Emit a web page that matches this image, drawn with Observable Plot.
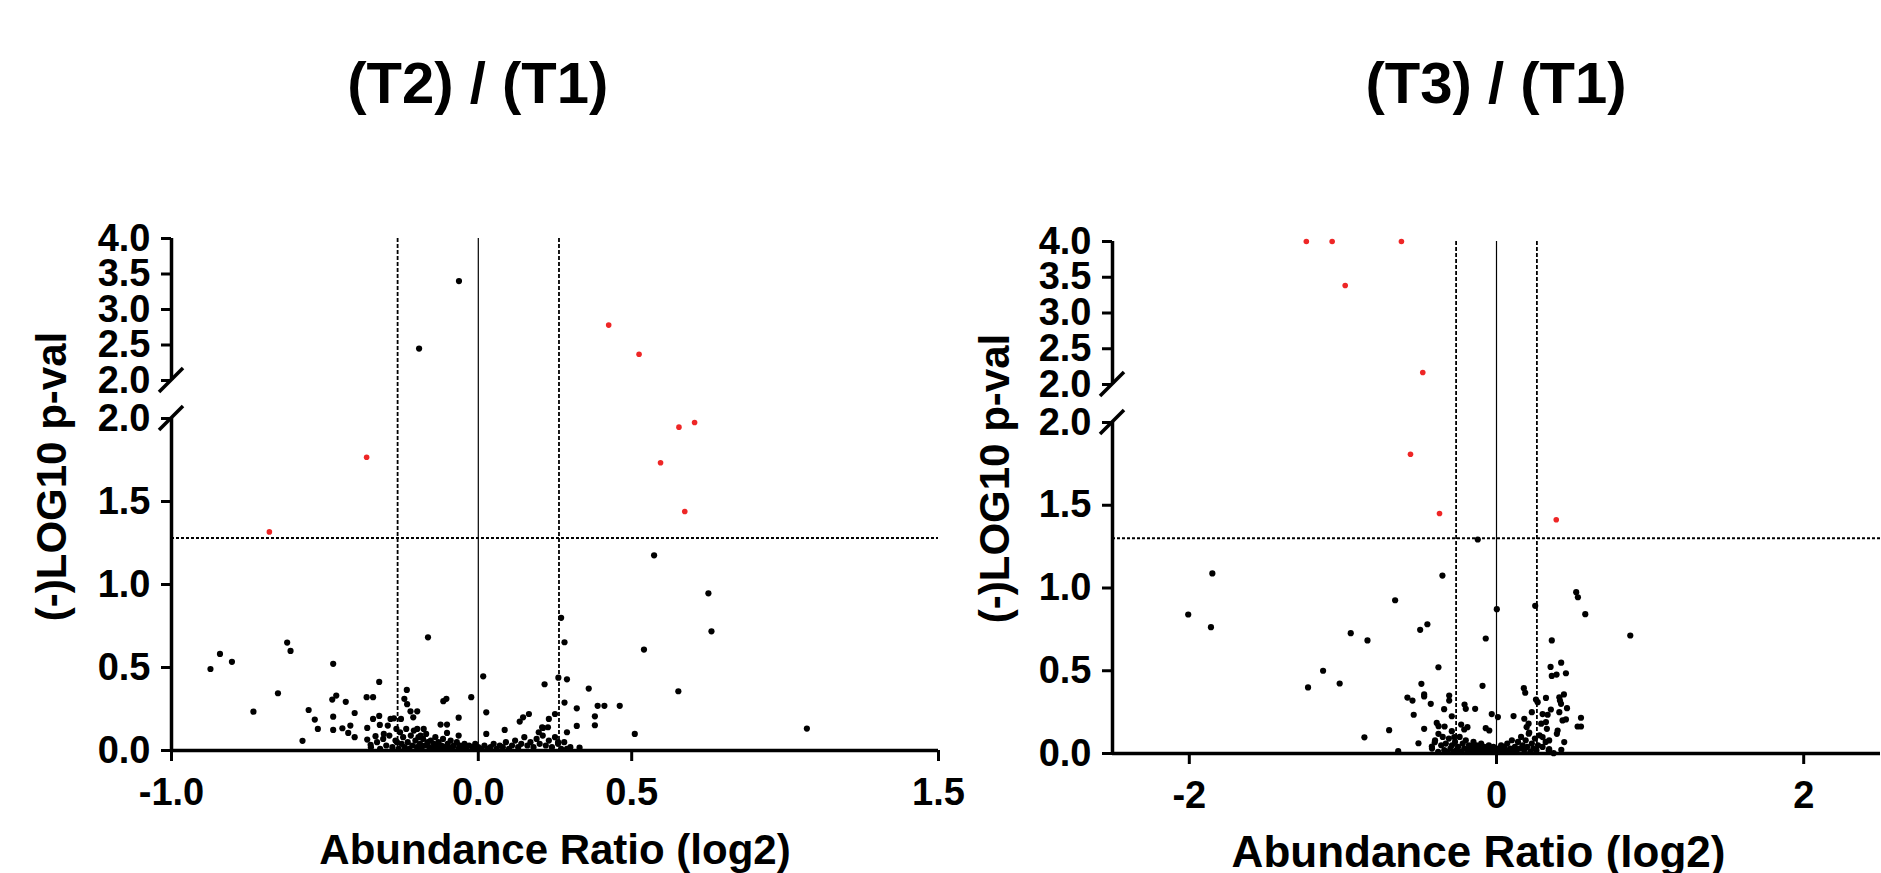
<!DOCTYPE html>
<html>
<head>
<meta charset="utf-8">
<script src="https://cdn.jsdelivr.net/npm/d3@7"></script>
<script src="https://cdn.jsdelivr.net/npm/@observablehq/plot@0.6"></script>
<style>
html, body { margin: 0; padding: 0; background: #fff; }
#root { position: relative; width: 1881px; height: 873px; overflow: hidden; font-family: "Liberation Sans", Arial, sans-serif; }
.title { position: absolute; font-weight: bold; font-size: 58px; line-height: 58px; white-space: nowrap; transform: translateX(-50%); color: #000; }
.panel { position: absolute; top: 0; }
.panel svg { max-width: none; overflow: visible; }
[aria-label$="axis tick"] path { stroke-width: 3px; }
</style>
</head>
<body>
<div id="root"></div>
<script>
// ---------- data ----------
const panelTitles = ["(T2) / (T1)", "(T3) / (T1)"];
const xLabel = "Abundance Ratio (log2)";
const yLabel = "(-)LOG10 p-val";

const t2XDomain = [-1, 1.5];
const t3XDomain = [-2.5, 2.5];
const t2XTicks = [-1, 0, 0.5, 1.5];
const t3XTicks = [-2, 0, 2];
const yLowerDomain = [0, 2];
const yUpperDomain = [2, 4];
const yLowerTicks = [0, 0.5, 1, 1.5, 2];
const yUpperTicks = [2, 2.5, 3, 3.5, 4];

const foldThreshold = 0.263;     // log2(1.2)
const t2PThreshold = 1.28;
const t3PThreshold = 1.3;

// [log2 ratio, -log10 p]
const t2Points = [
  [-0.063,3.40],[-0.193,2.45],[0.425,2.78],[0.524,2.37],
  [0.705,1.976],[0.654,1.948],[0.594,1.733],[0.673,1.44],[-0.364,1.767],[-0.681,1.317],[0.573,1.176],[0.75,0.947],
  [-0.873,0.491],[-0.842,0.582],[-0.803,0.534],[-0.733,0.234],[-0.653,0.345],[-0.623,0.65],[-0.612,0.6],[-0.573,0.058],
  [-0.553,0.244],[-0.533,0.186],[-0.523,0.13],[-0.473,0.522],[-0.476,0.307],[-0.463,0.331],[-0.473,0.204],[-0.473,0.124],
  [-0.443,0.134],[-0.432,0.293],[-0.424,0.106],[-0.403,0.226],[-0.417,0.15],[-0.403,0.08],[-0.364,0.321],[-0.343,0.321],
  [-0.323,0.413],[-0.362,0.136],[-0.362,0.066],[-0.351,0.034],[-0.343,0.19],[-0.323,0.208],[-0.335,0.086],[-0.321,0.154],
  [-0.308,0.1],[-0.295,0.15],[-0.286,0.19],[-0.275,0.194],[-0.267,0.13],[-0.265,0.05],[-0.252,0.19],[-0.241,0.311],
  [-0.233,0.365],[-0.232,0.279],[-0.221,0.236],[-0.212,0.2],[-0.199,0.236],[-0.199,0.13],[-0.188,0.09],[-0.178,0.13],
  [-0.164,0.682],[-0.123,0.156],[-0.114,0.297],[-0.104,0.311],[-0.102,0.156],[-0.102,0.106],[-0.064,0.198],[-0.064,0.09],
  [-0.023,0.321],[0.016,0.447],[0.026,0.23],[0.026,0.1],[0.086,0.124],[0.135,0.174],[0.146,0.2],[0.165,0.22],
  [0.216,0.399],[0.197,0.11],[0.208,0.14],[0.23,0.19],
  [0.76,0.718],[0.54,0.608],[0.652,0.357],[0.51,0.1],[1.071,0.132],[0.27,0.799],[0.281,0.652],[0.261,0.439],
  [0.289,0.429],[0.36,0.373],[0.281,0.289],[0.321,0.254],[0.389,0.269],[0.411,0.269],[0.461,0.269],[0.38,0.206],
  [0.38,0.152],[0.321,0.148],[0.289,0.11],[0.25,0.22],[0.227,0.14],[0.211,0.136],[0.26,0.05],[0.33,0.017],[0.289,0.01],
  [-0.35,0.02],[-0.33,0.05],[-0.32,0.01],[-0.31,0.07],[-0.30,0.03],[-0.29,0.09],[-0.28,0.02],[-0.27,0.06],[-0.26,0.01],
  [-0.255,0.11],[-0.25,0.04],[-0.245,0.08],[-0.24,0.02],[-0.235,0.13],[-0.23,0.05],[-0.225,0.01],[-0.22,0.09],[-0.215,0.03],
  [-0.21,0.12],[-0.205,0.06],[-0.2,0.02],[-0.195,0.08],[-0.19,0.04],[-0.185,0.01],[-0.18,0.07],[-0.175,0.03],[-0.17,0.1],
  [-0.165,0.05],[-0.16,0.02],[-0.155,0.06],[-0.15,0.01],[-0.145,0.04],[-0.14,0.08],[-0.135,0.02],[-0.13,0.05],[-0.125,0.01],
  [-0.12,0.03],[-0.115,0.07],[-0.11,0.02],[-0.1,0.04],[-0.095,0.01],[-0.09,0.06],[-0.085,0.02],[-0.08,0.03],[-0.07,0.05],
  [-0.065,0.01],[-0.06,0.03],[-0.05,0.02],[-0.045,0.04],[-0.04,0.01],[-0.03,0.03],[-0.02,0.02],[-0.015,0.01],[-0.01,0.04],
  [0.0,0.02],[0.01,0.01],[0.02,0.03],[0.03,0.01],[0.04,0.02],[0.05,0.04],[0.06,0.01],[0.07,0.03],[0.08,0.02],[0.09,0.05],
  [0.1,0.01],[0.11,0.03],[0.12,0.06],[0.13,0.02],[0.14,0.04],[0.15,0.08],[0.16,0.03],[0.17,0.05],[0.18,0.02],[0.19,0.07],
  [0.2,0.04],[0.21,0.09],[0.22,0.03],[0.23,0.06],[0.24,0.02],[0.25,0.08],[0.26,0.04],[0.27,0.01],[0.28,0.05],[0.3,0.02]
];

const t3Points = [
  [-1.238,4.0],[-1.07,4.0],[-0.619,4.0],[-0.985,3.385],[-0.48,2.168],[-0.56,1.808],[-0.371,1.45],[0.389,1.412],[-0.122,1.293],
  [-1.85,1.088],[-2.007,0.84],[-1.859,0.763],[-1.227,0.399],[-1.129,0.5],[-1.021,0.423],[-0.949,0.727],[-0.84,0.683],
  [-0.86,0.098],[-0.699,0.141],[-0.66,0.926],[-0.64,0.014],[-0.58,0.338],[-0.547,0.32],[-0.539,0.234],[-0.508,0.062],
  [-0.497,0.747],[-0.45,0.781],[-0.489,0.421],[-0.471,0.357],[-0.471,0.345],[-0.471,0.149],[-0.428,0.3],[-0.421,0.042],
  [-0.402,0.068],[-0.389,0.185],[-0.378,0.521],[-0.378,0.119],[-0.352,1.075],[-0.341,0.268],[-0.308,0.35],[-0.308,0.32],
  [-0.291,0.225],[-0.291,0.135],[-0.23,0.175],[-0.208,0.296],[-0.2,0.27],[-0.139,0.27],[-0.091,0.409],[-0.07,0.695],
  [-0.07,0.153],[-0.031,0.238],[0.009,0.22],[0.002,0.872],
  [-0.377,0.165],[-0.338,0.163],[-0.275,0.099],[-0.21,0.145],[-0.189,0.159],[-0.047,0.139],
  [0.111,0.226],[0.178,0.395],[0.187,0.367],[0.23,0.25],[0.181,0.21],[0.209,0.18],[0.196,0.159],[0.213,0.127],
  [0.257,0.326],[0.268,0.31],[0.291,0.18],[0.322,0.19],[0.328,0.149],[0.3,0.099],[0.322,0.336],[0.343,0.079],
  [0.354,0.266],[0.398,0.139],[0.393,0.119],[0.409,0.34],[0.413,0.32],[0.42,0.30],[0.439,0.357],[0.459,0.274],
  [0.409,0.25],[0.43,0.2],[0.452,0.206],[0.441,0.069],[0.422,0.022],[0.372,0.002],[0.343,0.026],[0.55,0.216],
  [0.55,0.163],[0.528,0.163],[0.3,0.238],[0.333,0.234],
  [0.252,0.892],[0.519,0.975],[0.53,0.944],[0.578,0.842],[0.871,0.713],[0.36,0.683],[0.352,0.523],[0.421,0.549],
  [0.36,0.469],[0.391,0.477],[0.452,0.485],
  [-0.42,0.03],[-0.4,0.08],[-0.38,0.01],[-0.36,0.05],[-0.35,0.1],[-0.34,0.02],[-0.33,0.06],[-0.32,0.01],[-0.31,0.09],
  [-0.3,0.03],[-0.29,0.05],[-0.28,0.01],[-0.27,0.07],[-0.26,0.02],[-0.25,0.04],[-0.24,0.1],[-0.23,0.01],[-0.22,0.06],
  [-0.21,0.03],[-0.2,0.08],[-0.19,0.02],[-0.18,0.05],[-0.17,0.01],[-0.16,0.04],[-0.15,0.07],[-0.14,0.02],[-0.13,0.05],
  [-0.12,0.01],[-0.11,0.03],[-0.1,0.06],[-0.09,0.02],[-0.08,0.04],[-0.07,0.01],[-0.06,0.03],[-0.05,0.05],[-0.04,0.02],
  [-0.03,0.01],[-0.02,0.04],[-0.01,0.02],[0.0,0.01],[0.01,0.03],[0.02,0.01],[0.03,0.05],[0.04,0.02],[0.05,0.04],
  [0.06,0.01],[0.07,0.06],[0.08,0.02],[0.09,0.03],[0.1,0.08],[0.11,0.01],[0.12,0.04],[0.13,0.02],[0.14,0.07],
  [0.15,0.03],[0.16,0.1],[0.17,0.05],[0.18,0.02],[0.19,0.08],[0.2,0.04],[0.21,0.12],[0.22,0.01],[0.23,0.06],
  [0.24,0.03],[0.25,0.09],[0.26,0.02],[0.27,0.05],[0.28,0.11],[0.3,0.04],[0.32,0.07],[0.34,0.02]
];

// ---------- drawing ----------
const EPS = 1e-6;
const RED = "#ee2626";
const FONT = "'Liberation Sans', Arial, sans-serif";
const root = document.getElementById("root");

function makePanel(cfg) {
  const data = cfg.points.map(([x, y]) => ({x, y, sig: y > cfg.pThr && Math.abs(x) > foldThreshold}));
  // piecewise linear y scale: lower segment [0,2] and upper segment [2,4] with a gap between them
  const yDomain = [yLowerDomain[0], yLowerDomain[1], yUpperDomain[0] + EPS, yUpperDomain[1]];
  const yTicks = [...yLowerTicks, ...yUpperTicks.map(t => t === yUpperDomain[0] ? t + EPS : t)];
  const H = 873;
  const plot = Plot.plot({
    width: cfg.width,
    height: H,
    marginLeft: cfg.marginLeft,
    marginRight: cfg.marginRight,
    marginTop: cfg.yRange[3],
    marginBottom: H - cfg.yRange[0],
    style: {background: "transparent", overflow: "visible", fontFamily: FONT, fontWeight: "bold", color: "#000"},
    x: {type: "linear", domain: cfg.xDomain},
    y: {type: "linear", domain: yDomain, range: cfg.yRange},
    marks: [
      Plot.ruleX([0], {stroke: "#000", strokeWidth: 1.2}),
      Plot.ruleX([-foldThreshold, foldThreshold], {stroke: "#000", strokeWidth: 1.8, strokeDasharray: "4,2"}),
      Plot.ruleY([cfg.pThr], {stroke: "#000", strokeWidth: 2, strokeDasharray: "3,2"}),
      Plot.dot(data.filter(d => !d.sig), {x: "x", y: "y", r: 3.1, fill: "#000", stroke: null}),
      Plot.dot(data.filter(d => d.sig), {x: "x", y: "y", r: 2.8, fill: RED, stroke: null}),
      Plot.ruleY([yLowerDomain[0]], {stroke: "#000", strokeWidth: 3.5}),
      Plot.ruleX([cfg.xDomain[0]], {y1: yLowerDomain[0], y2: yLowerDomain[1], stroke: "#000", strokeWidth: 3.5}),
      Plot.ruleX([cfg.xDomain[0]], {y1: yUpperDomain[0] + EPS, y2: yUpperDomain[1], stroke: "#000", strokeWidth: 3.5}),
      Plot.axisX({ticks: cfg.xTicks, tickFormat: cfg.xFmt, tickSize: 11, tickPadding: 17, fontSize: 38, fontWeight: "bold", label: null, strokeWidth: 3}),
      Plot.axisY({ticks: yTicks, tickFormat: d => d.toFixed(1), tickSize: 10, tickPadding: 11, fontSize: 38, fontWeight: "bold", label: null, strokeWidth: 3}),
      Plot.text([xLabel], {text: d => d, frameAnchor: "bottom", textAnchor: "middle", lineAnchor: "bottom", dx: cfg.xLabelDx, dy: 113, fontSize: cfg.xLabelSize, fontWeight: "bold"}),
      Plot.text([yLabel], {text: d => d, frameAnchor: "left", textAnchor: "middle", lineAnchor: "bottom", rotate: -90, dx: cfg.yLabelDx, dy: cfg.yLabelDy, fontSize: 42, fontWeight: "bold"})
    ]
  });

  // axis-break marks at the segment ends, placed through the plot's scales
  const xs = plot.scale("x"), ys = plot.scale("y");
  const x0 = xs.apply(cfg.xDomain[0]);
  const svg = d3.select(plot);
  [ys.apply(yLowerDomain[1]), ys.apply(yUpperDomain[0] + EPS)].forEach(yy => {
    svg.append("line")
      .attr("x1", x0 - 12).attr("y1", yy + 12)
      .attr("x2", x0 + 12).attr("y2", yy - 12)
      .attr("stroke", "#000").attr("stroke-width", 3.5);
  });

  const wrap = document.createElement("div");
  wrap.className = "panel";
  wrap.style.left = cfg.left + "px";
  wrap.appendChild(plot);
  root.appendChild(wrap);

  const t = document.createElement("div");
  t.className = "title";
  t.textContent = cfg.title;
  t.style.left = (cfg.left + xs.apply(0)) + "px";
  t.style.top = "54px";
  root.appendChild(t);
}

makePanel({
  title: panelTitles[0], points: t2Points, xDomain: t2XDomain, xTicks: t2XTicks, xFmt: d => d.toFixed(1),
  pThr: t2PThreshold, left: 0, width: 950, marginLeft: 171, marginRight: 12,
  yRange: [750, 418, 380, 238], xLabelDx: 0, xLabelSize: 42, yLabelDx: -106, yLabelDy: -18
});
makePanel({
  title: panelTitles[1], points: t3Points, xDomain: t3XDomain, xTicks: t3XTicks, xFmt: d => String(d),
  pThr: t3PThreshold, left: 950, width: 931, marginLeft: 162, marginRight: 1,
  yRange: [753, 422, 384, 241], xLabelDx: -18, xLabelSize: 44, yLabelDx: -104, yLabelDy: -19
});
</script>
</body>
</html>
